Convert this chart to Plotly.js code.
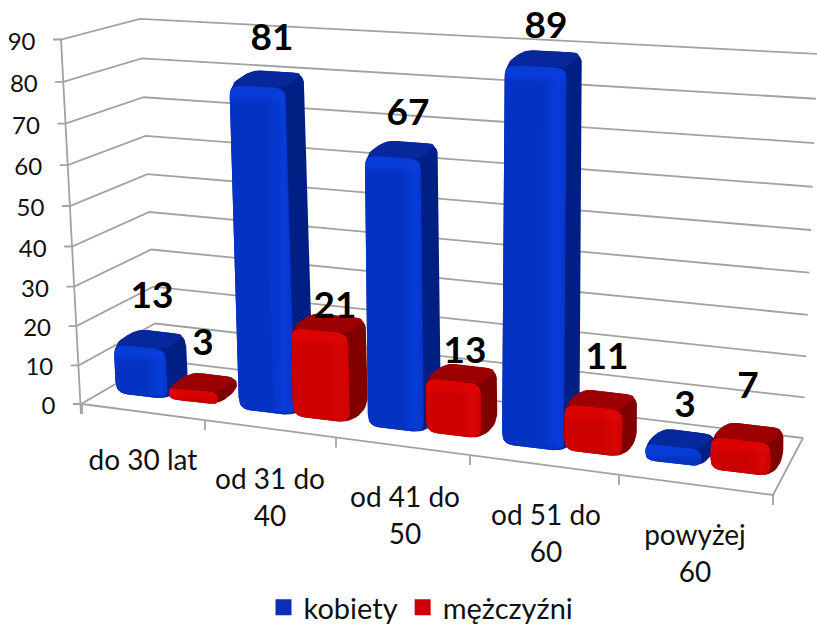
<!DOCTYPE html>
<html><head><meta charset="utf-8">
<script src="https://cdn.plot.ly/plotly-3.0.1.min.js"></script>
<style>html,body{margin:0;padding:0;background:#fff;overflow:hidden}#c{width:817px;height:627px;overflow:hidden}</style>
</head><body><div id="c"></div>
<script>
// ---------- data ----------
const categoryLines = [["do 30 lat"],["od 31 do","40"],["od 41 do","50"],["od 51 do","60"],["powyżej","60"]];
const kobiety   = [13,81,67,89,3];
const mezczyzni = [3,21,13,11,7];
const seriesNames = ["kobiety","mężczyźni"];
const tickValues = [0,10,20,30,40,50,60,70,80,90];

// ---------- perspective geometry of the chart (pixels of the page) ----------
const W=817,H=633, Y0=404, PXU=4.05;
const uy = p => (Y0-p)/PXU;               // page row -> y-axis unit
const blueGeo = {x:[116,239,368,502,645], y:[393,409,426,444,460], w:[52,56,56,62,56], s:[3.77,4.0,4.04,4.26,5.6]};
const redGeo  = {x:[169,293,426,564,710], y:[399,416,432,450,469], w:[49,57,55,58,60], s:[4.0,4.2,4.15,4.18,4.6]};
const blueLabels = {x:[152,272,408,546,685], y:[296,38,113,26,405]};
const redLabels  = {x:[203,335,465,607,748], y:[343,306,351,357,386]};
const catX = [143,270,405,546,695], catY=[460,479,497,515,535], catLH=37;
const floorTicks=[82,205,336,470,619,773];

const blueStyle={front:'#0433c4',bright:'#083cd6',edge:'#0a2fb4',top:'#06289c',side:'#001f85',strip:'rgba(10,64,224,'};
const redStyle ={front:'#cc0000',bright:'#dc0202',edge:'#c00000',top:'#9c0000',side:'#800000',strip:'rgba(222,8,8,'};

function roundPoly(pts,r){
  const out=[],n=pts.length;
  for(let i=0;i<n;i++){
    const p=pts[i],a=pts[(i+n-1)%n],b=pts[(i+1)%n];
    const la=Math.hypot(a[0]-p[0],a[1]-p[1]),lb=Math.hypot(b[0]-p[0],b[1]-p[1]);
    const ra=Math.min(r,la/2),rb=Math.min(r,lb/2);
    const s=[p[0]+(a[0]-p[0])*ra/la,p[1]+(a[1]-p[1])*ra/la];
    const e=[p[0]+(b[0]-p[0])*rb/lb,p[1]+(b[1]-p[1])*rb/lb];
    for(let k=0;k<=6;k++){const t=k/6,m=1-t;
      out.push([m*m*s[0]+2*m*t*p[0]+t*t*e[0],m*m*s[1]+2*m*t*p[1]+t*t*e[1]]);}
  }
  out.push(out[0]);
  return out;
}
function poly(pts,name,extra){
  return Object.assign({type:'scatter',mode:'lines',x:pts.map(p=>p[0]),y:pts.map(p=>uy(p[1])),
    fill:'toself',line:{width:0},showlegend:false,hoverinfo:'skip',name:name},extra);
}
function barTraces(v,i,g,st,name){
  const x=g.x[i],y=g.y[i],w=g.w[i];
  const h=g.s[i]*v;
  const lean=h*(x-450)*0.00014;
  const dx=20-0.012*(x-115), dxL=dx+4, dy=-15;
  const slopeB=0.12, slopeT=0.12-0.07*v/90;
  const BL=[x,y],BR=[x+w,y+w*slopeB];
  const TL=[x+lean,y-h],TR=[x+lean+w,y-h+w*slopeT];
  const BRb=[BR[0]+dx,BR[1]+dy],TRb=[TR[0]+dx,TR[1]+dy],TLb=[TL[0]+dxL,TL[1]+dy];
  const out=[];
  out.push(poly(roundPoly([BL,BR,BRb,TRb,TLb,TL],12),name,{fillcolor:st.side}));
  out.push(poly(roundPoly([TL,TR,TRb,TLb],9),name,{fillcolor:st.top}));
  const fh=Math.max(h+w*slopeB,1), b=Math.min(0.49,10/fh), b2=Math.min(0.7,18/fh);
  out.push(poly(roundPoly([BL,BR,TR,TL],Math.min(11,Math.max(4,h/2))),name,{
    fillcolor:st.front,
    fillgradient:{type:'vertical',colorscale:[[0,st.front],[1-b2,st.front],[1-b,st.bright],[1,st.bright]]}
  }));
  if(h>30){
    const a=0.62,c=0.98;
    const sB=[BL[0]+w*a,BL[1]+w*a*slopeB-2], sB2=[BL[0]+w*c,BL[1]+w*c*slopeB-4];
    const sT=[TL[0]+w*a,TL[1]+w*a*slopeT+4], sT2=[TL[0]+w*c,TL[1]+w*c*slopeT+4];
    out.push(poly([sB,sB2,sT2,sT,sB],name,{
      fillgradient:{type:'horizontal',colorscale:[[0,st.strip+'0)'],[0.7,st.strip+'0.7)'],[1,st.strip+'0.2)']]}
    }));
  }
  return out;
}

// ---------- wall and floor ----------
const wallX=v=>61+(90-v)*0.222, wallY=v=>404-3.8475*v-0.00225*v*v;
const backX=v=>157-v*0.19, backY=v=>360-3.629*v-0.00178*v*v;
const endX=v=>803+v*0.16, endY=v=>438-4.027*v-0.00267*v*v;
const grey='#a2a2a2';
const traces=[];
function line(pts,width){
  traces.push({type:'scatter',mode:'lines',x:pts.map(p=>p[0]),y:pts.map(p=>uy(p[1])),
    line:{color:grey,width:width||1.8},showlegend:false,hoverinfo:'skip'});
}
tickValues.forEach(v=>{
  line([[wallX(v)-8,wallY(v)],[wallX(v),wallY(v)],[backX(v),backY(v)],[endX(v),endY(v)]]);
});
line([[wallX(90),wallY(90)],[wallX(0),wallY(0)+10]]);
line([[82,404],[773,495],[803,438]]);
floorTicks.forEach(x=>{const y=404+(x-82)*0.1317; line([[x,y],[x,y+10]]);});

// ---------- bars ----------
kobiety.forEach((v,i)=>{
  traces.push(...barTraces(v,i,blueGeo,blueStyle,seriesNames[0]));
  traces.push(...barTraces(mezczyzni[i],i,redGeo,redStyle,seriesNames[1]));
});

// ---------- texts ----------
const fam='Lato, "Noto Sans", sans-serif';
const bold={family:fam,size:37,color:'#000',weight:700};
const tickFont={family:fam,size:24,color:'#111'};
const catFont={family:fam,size:28,color:'#111'};
function text(xs,ys,ts,font,pos){
  traces.push({type:'scatter',mode:'text',x:xs,y:ys.map(p=>uy(p+3)),text:ts,textposition:pos||'middle center',
    textfont:font,showlegend:false,hoverinfo:'skip',cliponaxis:false});
}
text(blueLabels.x,blueLabels.y,kobiety.map(String),bold);
text(redLabels.x,redLabels.y,mezczyzni.map(String),bold);
text(tickValues.map(v=>wallX(v)-25.5),tickValues.map(v=>wallY(v)+1),tickValues.map(String),tickFont,'middle left');
categoryLines.forEach((ls,i)=>ls.forEach((t,j)=>text([catX[i]],[catY[i]+j*catLH],[t],catFont)));

// ---------- legend ----------
[[seriesNames[0],'#0a2fb4'],[seriesNames[1],'#cc0000']].forEach(([n,c])=>{
  traces.push({type:'scatter',mode:'markers',x:[null],y:[null],name:n,
    marker:{symbol:'square',size:16,color:c},showlegend:true,hoverinfo:'skip'});
});

const layout={
  width:W,height:H,margin:{l:0,r:0,t:0,b:0},paper_bgcolor:'#fff',plot_bgcolor:'#fff',
  xaxis:{range:[0,W],visible:false,fixedrange:true},
  yaxis:{range:[uy(H),uy(0)],visible:false,fixedrange:true},
  showlegend:true,
  legend:{orientation:'h',x:421/817,xanchor:'center',y:0,yanchor:'bottom',
    font:{family:fam,size:29,color:'#111'},bgcolor:'rgba(0,0,0,0)',itemsizing:'trace'}
};
Plotly.newPlot('c',traces,layout,{displayModeBar:false,staticPlot:true});
</script></body></html>
